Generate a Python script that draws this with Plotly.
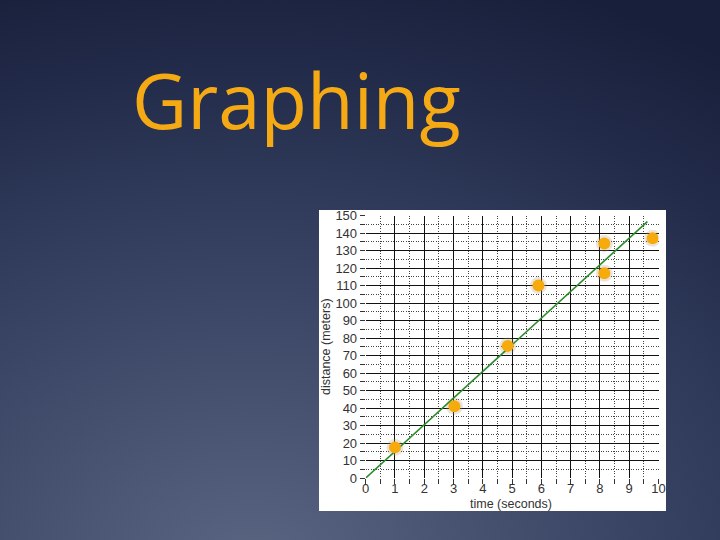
import base64
import plotly.graph_objects as go

# ---- data ----
time_s = [1.0, 3.03, 4.85, 5.9, 8.15, 8.15, 9.8]
distance_m = [17.5, 41, 75.5, 110, 134, 117, 137]
fit_time = [0, 9.62]
fit_distance = [0, 146.5]
x_ticks = list(range(0, 11))
y_ticks = list(range(0, 151, 10))

W, H = 720, 540

# slide background gradient (decorative)
svg = f'''<svg xmlns="http://www.w3.org/2000/svg" width="{W}" height="{H}">
<defs>
<radialGradient id="g" cx="0.35" cy="1.05" r="1.15" fx="0.35" fy="1.05">
<stop offset="0" stop-color="#5a6582"/>
<stop offset="0.45" stop-color="#3a4565"/>
<stop offset="0.8" stop-color="#222b4a"/>
<stop offset="1" stop-color="#181f3a"/>
</radialGradient>
</defs>
<rect width="{W}" height="{H}" fill="url(#g)"/>
</svg>'''
bg_uri = "data:image/svg+xml;base64," + base64.b64encode(svg.encode()).decode()

fig = go.Figure()

# soft shadow/glow behind markers
fig.add_trace(go.Scatter(
    x=time_s, y=distance_m, mode="markers",
    marker=dict(size=17, color="rgba(170,150,110,0.25)", line=dict(width=0)),
    hoverinfo="skip", showlegend=False,
))
fig.add_trace(go.Scatter(
    x=fit_time, y=fit_distance, mode="lines",
    line=dict(color="#2a8a2a", width=1.6),
    showlegend=False,
))
fig.add_trace(go.Scatter(
    x=time_s, y=distance_m, mode="markers",
    marker=dict(size=12, color="#f7aa0c", line=dict(width=0)),
    showlegend=False,
))

x0, x1 = 365.7 / W, 658.5 / W
y0, y1 = (H - 478) / H, (H - 215.5) / H

tickfont = dict(family="Liberation Sans, Arial", size=13, color="#333333")
titlefont = dict(family="Liberation Sans, Arial", size=12.5, color="#333333")

fig.update_layout(
    width=W, height=H, autosize=False,
    margin=dict(l=0, r=0, t=0, b=0, pad=0, autoexpand=False),
    paper_bgcolor="#1e2542",
    plot_bgcolor="white",
    images=[dict(source=bg_uri, xref="paper", yref="paper", x=0, y=1,
                 sizex=1, sizey=1, sizing="stretch", layer="below",
                 xanchor="left", yanchor="top")],
    shapes=[dict(type="rect", xref="paper", yref="paper",
                 x0=319 / W, x1=666 / W, y0=(H - 511) / H, y1=(H - 210) / H,
                 fillcolor="white", line=dict(width=0), layer="below")],
    annotations=[
        dict(text="Graphing", xref="paper", yref="paper",
             x=130 / W, y=(H - 99) / H, xanchor="left", yanchor="middle",
             showarrow=False,
             font=dict(family="Open Sans", size=76, color="#f5a914")),
        dict(text="time (seconds)", xref="paper", yref="paper",
             x=511 / W, y=(H - 504) / H, xanchor="center", yanchor="middle",
             showarrow=False, font=titlefont),
        dict(text="distance (meters)", xref="paper", yref="paper",
             x=326 / W, y=(H - 347) / H, xanchor="center", yanchor="middle",
             textangle=-90, showarrow=False, font=titlefont),
    ],
    xaxis=dict(
        domain=[x0, x1], range=[0, 10], tickvals=x_ticks, automargin=False,
        showgrid=True, gridcolor="#111111", gridwidth=1.3,
        zeroline=False, showline=False,
        ticks="", tickfont=tickfont, ticklabelstandoff=1,
        minor=dict(dtick=0.5, showgrid=True, gridcolor="#444444",
                   griddash="1px,1.5px", gridwidth=1, ticks="outside",
                   ticklen=5, tickcolor="#333333"),
        fixedrange=True,
    ),
    yaxis=dict(
        domain=[y0, y1], range=[0, 150], tickvals=y_ticks, automargin=False,
        showgrid=True, gridcolor="#111111", gridwidth=1.3,
        zeroline=False, showline=False,
        ticks="outside", ticklen=5, tickcolor="#333333",
        tickfont=tickfont,
        minor=dict(dtick=5, showgrid=True, gridcolor="#444444",
                   griddash="1px,1.5px", gridwidth=1, ticks="outside",
                   ticklen=5, tickcolor="#333333"),
        fixedrange=True,
    ),
)

fig.write_html(
    "out.html",
    config={"displayModeBar": False, "responsive": False},
    post_script="document.body.style.margin='0';document.body.style.overflow='hidden';",
)
